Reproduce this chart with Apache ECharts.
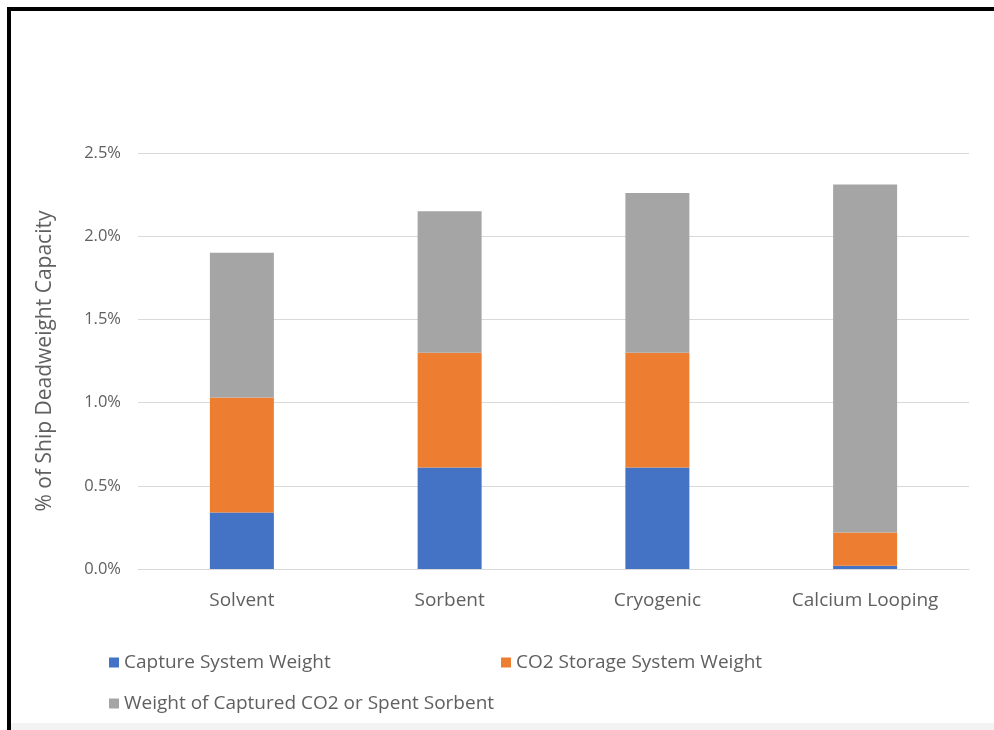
<!DOCTYPE html>
<html>
<head>
<meta charset="utf-8">
<script src="https://cdn.jsdelivr.net/npm/echarts@6/dist/echarts.min.js"></script>
<style>
html,body{margin:0;padding:0;background:#fff;}
#c{width:994px;height:730px;}
</style>
</head>
<body>
<div id="c"></div>
<script>
var categories = ['Solvent', 'Sorbent', 'Cryogenic', 'Calcium Looping'];
var captureSystem = [0.34, 0.61, 0.61, 0.02];
var co2Storage = [0.69, 0.69, 0.69, 0.20];
var capturedCO2 = [0.87, 0.85, 0.96, 2.09];
var seriesNames = ['Capture System Weight', 'CO2 Storage System Weight', 'Weight of Captured CO2 or Spent Sorbent'];
var yTicks = [0, 0.5, 1.0, 1.5, 2.0, 2.5];

var font = '"Open Sans", "Noto Sans", sans-serif';
var txt = '#606060';
var chart = echarts.init(document.getElementById('c'));
var legendBase = {
  orient: 'horizontal', itemWidth: 10, itemHeight: 10, itemGap: 6,
  icon: 'rect',
  textStyle: {color: txt, fontSize: 19, fontFamily: font}
};
chart.setOption({
  animation: false,
  backgroundColor: '#ffffff',
  graphic: [
    {type: 'rect', shape: {x: 7, y: 7, width: 987, height: 4}, style: {fill: '#000'}},
    {type: 'rect', shape: {x: 7, y: 7, width: 4, height: 723}, style: {fill: '#000'}},
    {type: 'rect', shape: {x: 11, y: 723, width: 983, height: 7}, style: {fill: '#f3f3f3'}}
  ],
  legend: [
    Object.assign({}, legendBase, {left: 104, top: 648, data: [seriesNames[0]]}),
    Object.assign({}, legendBase, {left: 496, top: 648, data: [seriesNames[1]]}),
    Object.assign({}, legendBase, {left: 104, top: 689, data: [seriesNames[2]]})
  ],
  grid: {left: 138, right: 25, top: 153, bottom: 161, containLabel: false},
  xAxis: {
    type: 'category', data: categories,
    axisLine: {show: true, lineStyle: {color: '#d9d9d9', width: 1}},
    axisTick: {show: false},
    axisLabel: {color: txt, fontSize: 19, fontFamily: font, margin: 22}
  },
  yAxis: {
    type: 'value', min: 0, max: 2.5, interval: 0.5,
    name: '% of Ship Deadweight Capacity', nameLocation: 'middle', nameGap: 82,
    nameTextStyle: {color: txt, fontSize: 21, fontFamily: font},
    axisLine: {show: false}, axisTick: {show: false},
    splitLine: {lineStyle: {color: '#d9d9d9', width: 1}},
    axisLabel: {color: txt, fontSize: 16.5, fontFamily: font, margin: 17,
      formatter: function (v) { return v.toFixed(1) + '%'; }}
  },
  series: [
    {name: seriesNames[0], type: 'bar', stack: 't', data: captureSystem, barWidth: 64, itemStyle: {color: '#4472c4'}},
    {name: seriesNames[1], type: 'bar', stack: 't', data: co2Storage, barWidth: 64, itemStyle: {color: '#ed7d31'}},
    {name: seriesNames[2], type: 'bar', stack: 't', data: capturedCO2, barWidth: 64, itemStyle: {color: '#a5a5a5'}}
  ]
});
</script>
</body>
</html>
